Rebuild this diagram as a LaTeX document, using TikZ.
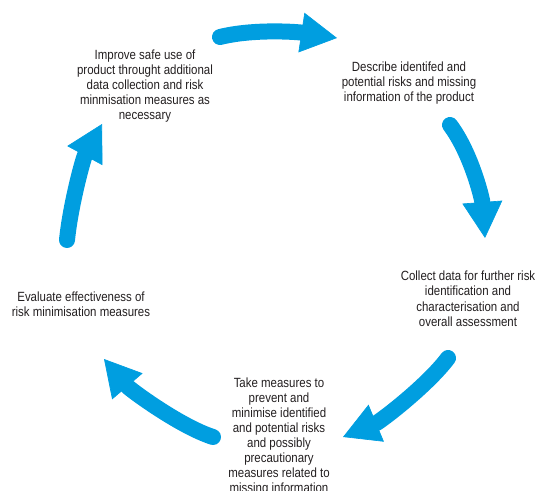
\documentclass[tikz,border=0pt]{standalone}
\usepackage{fontspec}
\setmainfont[FakeStretch=0.86]{Liberation Sans}
\usepackage{tikz}
\usetikzlibrary{arrows.meta}
\definecolor{cycleblue}{RGB}{0, 158, 224}
\definecolor{textgray}{RGB}{35, 31, 32}

\begin{document}
\begin{tikzpicture}[
    x=0.75pt, y=-0.75pt,
    stage/.style={text=textgray, align=center, anchor=north, inner sep=0pt, font=\fontsize{10pt}{11.28pt}\selectfont},
    cyc/.style={draw=cycleblue, line width=12pt, line cap=round, -{Triangle[length=27pt, width=30pt, line width=0.5pt]}}
]
    \useasboundingbox (0,0) rectangle (541,491);

    \node [stage] (improve) at (145, 49.3) {Improve safe use of\\product throught additional\\data collection and risk\\minmisation measures as\\necessary};
    \node [stage] (describe) at (409, 61.5) {Describe identifed and\\potential risks and missing\\information of the product};
    \node [stage] (collect) at (468, 271) {Collect data for further risk\\identification and\\characterisation and\\overall assessment};
    \node [stage] (measures) at (279, 377.7) {Take measures to\\prevent and\\minimise identified\\and potential risks\\and possibly\\precautionary\\measures related to\\missing information};
    \node [stage] (evaluate) at (81, 292) {Evaluate effectiveness of\\risk minimisation measures};

    \coordinate (improve_out) at (220, 37);
    \coordinate (describe_in) at (337, 38);
    \coordinate (describe_out) at (450, 125);
    \coordinate (collect_in) at (485, 238);
    \coordinate (collect_out) at (448, 358);
    \coordinate (measures_in) at (343, 437);
    \coordinate (measures_out) at (213, 437);
    \coordinate (evaluate_in) at (104, 359);
    \coordinate (evaluate_out) at (67, 240);
    \coordinate (improve_in) at (102, 124);

    \draw [cyc] (improve_out) .. controls (254, 28.6) and (297.5, 32) .. (describe_in);
    \draw [cyc] (describe_out) .. controls (471, 153) and (482, 198) .. (collect_in);
    \draw [cyc] (collect_out) .. controls (427, 386) and (380, 421.6) .. (measures_in);
    \draw [cyc] (measures_out) .. controls (180, 426.5) and (130, 389.4) .. (evaluate_in);
    \draw [cyc] (evaluate_out) .. controls (70.5, 205) and (83, 159) .. (improve_in);

\end{tikzpicture}
\end{document}
